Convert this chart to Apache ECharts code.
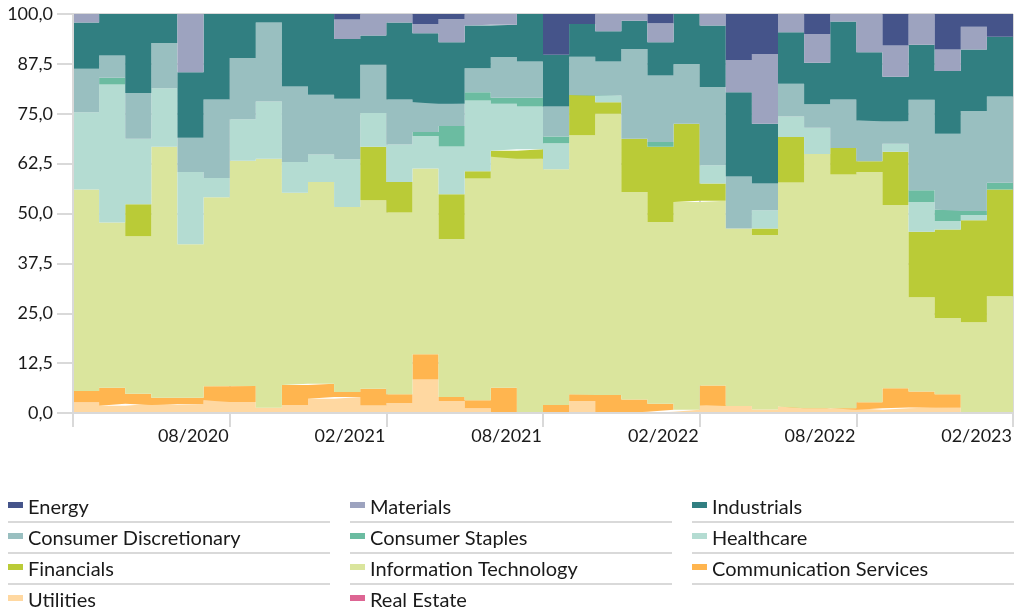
<!DOCTYPE html>
<html>
<head>
<meta charset="utf-8">
<script src="https://cdn.jsdelivr.net/npm/echarts@6/dist/echarts.min.js"></script>
<style>
  html, body { margin: 0; padding: 0; background: #fff; }
  #main { width: 1015px; height: 614px; }
</style>
</head>
<body>
<div id="main"></div>
<script>
// month boundaries: each month runs from its label to the next one
var months = ['02/2020','03/2020','04/2020','05/2020','06/2020','07/2020','08/2020','09/2020','10/2020','11/2020','12/2020','01/2021',
              '02/2021','03/2021','04/2021','05/2021','06/2021','07/2021','08/2021','09/2021','10/2021','11/2021','12/2021','01/2022',
              '02/2022','03/2022','04/2022','05/2022','06/2022','07/2022','08/2022','09/2022','10/2022','11/2022','12/2022','01/2023',
              '02/2023'];

// monthly sector weights (%)
var utilities     = [2.7,1.8,2.3,2.0,2.2,3.2,2.75,1.3,2.0,3.6, 4.0,1.9,2.5,8.4,3.0,1.2,0,0,0,3.0, 0,0,0.3,0.8,2.0,1.75,0.9,1.6,1.2,1.2, 0.8,1.2,1.4,1.3,0,0];
var commServices  = [2.8,4.5,2.5,1.8,1.6,3.5,4.0,0,5.0,3.7, 1.25,4.2,2.2,6.3,1.0,2.0,6.3,0,2.0,1.7, 4.5,3.4,2.0,0,4.9,0,0,0,0,0, 1.9,5.0,4.0,3.4,0,0];
var infoTech      = [50.5,41.45,39.5,62.9,38.5,47.4,56.45,62.45,48.2,50.6, 46.35,47.2,45.55,46.55,39.6,55.55,57.9,63.75,59.1,64.9, 70.5,52.0,45.6,52.1,46.3,44.5,43.7,56.15,63.7,58.6, 57.7,45.9,23.6,19.1,22.75,29.25];
var financials    = [0,0,8.0,0,0,0,0,0,0,0, 0,13.45,7.65,0,11.2,1.85,1.5,2.35,0,10.1, 2.9,13.35,18.8,19.6,4.3,0,1.65,11.45,0,6.6, 2.7,13.4,16.4,22.2,25.55,26.75];
var healthcare    = [19.4,34.55,16.45,14.7,18.1,4.8,10.4,14.35,7.7,6.9, 12.0,8.45,9.4,8.15,12.0,17.7,11.8,10.7,6.5,0, 1.7,0,0,0,4.6,0,4.55,5.1,6.6,0, 0,2.0,7.5,2.1,1.3,0];
var staples       = [0,1.7,0,0,0,0,0,0,0,0, 0,0,0,1.0,5.1,2.1,1.5,2.2,1.7,0, 0,0,1.2,0,0,0,0,0,0,0, 0,0,2.9,2.9,1.0,1.7];
var discretionary = [10.85,5.6,11.45,11.35,8.6,19.7,15.4,19.8,18.9,14.95, 15.15,12.05,11.3,7.5,5.6,6.0,10.2,9.1,7.5,9.6, 8.5,22.5,16.7,15.0,19.6,13.05,6.7,8.2,5.9,12.2, 10.2,5.6,22.7,19.0,25.1,21.6];
var industrials   = [11.65,10.4,19.8,7.25,16.4,21.4,11.0,2.1,18.2,20.25, 15.0,7.35,19.3,17.3,15.4,10.7,8.1,11.9,13.0,8.2, 7.6,7.05,8.3,12.5,15.4,21.1,15.0,12.9,10.4,19.5, 17.1,11.2,13.8,15.7,15.4,15.0];
var materials     = [2.1,0,0,0,14.6,0,0,0,0,0, 4.85,5.4,2.1,2.3,5.85,2.9,2.7,0,0,0, 4.3,1.7,4.8,0,2.9,8.1,17.5,4.6,7.2,1.9, 9.6,7.8,7.7,5.4,5.7,0];
var energy        = [0,0,0,0,0,0,0,0,0,0, 1.4,0,0,2.5,1.25,0,0,0,10.2,2.5, 0,0,2.3,0,0,11.5,10,0,5.0,0, 0,7.9,0,8.9,3.2,5.7];
var realEstate    = [0,0,0,0,0,0,0,0,0,0, 0,0,0,0,0,0,0,0,0,0, 0,0,0,0,0,0,0,0,0,0, 0,0,0,0,0,0];

var yTickStep = 12.5;

var font = 'Lato, "Noto Sans", sans-serif';
var gridColor = '#d9d9d9';

// bottom of the stack first
var layers = [
  { name: 'Real Estate',            data: realEstate,    color: '#dd6593' },
  { name: 'Utilities',              data: utilities,     color: '#ffd8a1' },
  { name: 'Communication Services', data: commServices,  color: '#ffb54f' },
  { name: 'Information Technology', data: infoTech,      color: '#dae59d' },
  { name: 'Financials',             data: financials,    color: '#bacb37' },
  { name: 'Healthcare',             data: healthcare,    color: '#b4dcd2' },
  { name: 'Consumer Staples',       data: staples,       color: '#6bbca1' },
  { name: 'Consumer Discretionary', data: discretionary, color: '#99bfc0' },
  { name: 'Industrials',            data: industrials,   color: '#317f81' },
  { name: 'Materials',              data: materials,     color: '#9da3bf' },
  { name: 'Energy',                 data: energy,        color: '#45548a' }
];

// the last month keeps its value up to the closing boundary
function toSteps(arr) {
  return arr.concat([arr[arr.length - 1]]);
}

var series = layers.map(function(l) {
  return {
    name: l.name,
    type: 'line',
    stack: 'total',
    step: 'end',
    showSymbol: false,
    symbol: 'none',
    color: l.color,
    lineStyle: { width: 0 },
    areaStyle: { color: l.color, opacity: 1 },
    emphasis: { disabled: true },
    data: toSteps(l.data)
  };
});

var legendIcon = 'path://M0,0h15v6h-15zM0,12h0.01v0.01h-0.01z';
var legendCols = [
  ['Energy', 'Consumer Discretionary', 'Financials', 'Utilities'],
  ['Materials', 'Consumer Staples', 'Information Technology', 'Real Estate'],
  ['Industrials', 'Healthcare', 'Communication Services']
];
var colLeft = [8, 350, 692];

var legends = legendCols.map(function(names, c) {
  return {
    orient: 'vertical',
    left: colLeft[c],
    top: 498,
    padding: 0,
    itemGap: 11,
    itemWidth: 15,
    itemHeight: 12,
    icon: legendIcon,
    selectedMode: false,
    textStyle: { fontFamily: font, fontSize: 20, color: '#1a1a1a', lineHeight: 20 },
    data: names
  };
});

// separator lines under the legend rows
var rules = [];
colLeft.forEach(function(x0) {
  [522, 553, 584, 615].forEach(function(y) {
    rules.push({
      type: 'line',
      shape: { x1: x0, y1: y, x2: x0 + 322, y2: y },
      style: { stroke: gridColor, lineWidth: 2 }
    });
  });
});

var myChart = echarts.init(document.getElementById('main'));

var option = {
  animation: false,
  grid: { left: 73, right: -6, top: 14, bottom: 201 },
  legend: legends,
  graphic: rules,
  xAxis: {
    type: 'category',
    data: months,
    boundaryGap: false,
    z: 3,
    axisLine: { show: true, lineStyle: { color: gridColor, width: 2 } },
    axisTick: { show: true, interval: 5, length: 14, lineStyle: { color: gridColor, width: 2 } },
    splitLine: { show: true, interval: 5, lineStyle: { color: gridColor, width: 2 } },
    axisLabel: {
      interval: 5,
      fontFamily: font, fontSize: 18, color: '#1a1a1a',
      align: 'right', padding: [0, 1, 0, 0], margin: 14,
      formatter: function(v, i) { return i === 0 ? '' : v; }
    }
  },
  yAxis: {
    type: 'value',
    min: 0,
    max: 100,
    interval: yTickStep,
    z: 3,
    axisLine: { show: true, lineStyle: { color: gridColor, width: 2 } },
    axisTick: { show: true, length: 16, lineStyle: { color: gridColor, width: 2 } },
    splitLine: { show: true, lineStyle: { color: gridColor, width: 2 } },
    axisLabel: {
      fontFamily: font, fontSize: 18, color: '#1a1a1a', margin: 20,
      formatter: function(v) { return v.toFixed(1).replace('.', ','); }
    }
  },
  series: series
};

myChart.setOption(option);
</script>
</body>
</html>
